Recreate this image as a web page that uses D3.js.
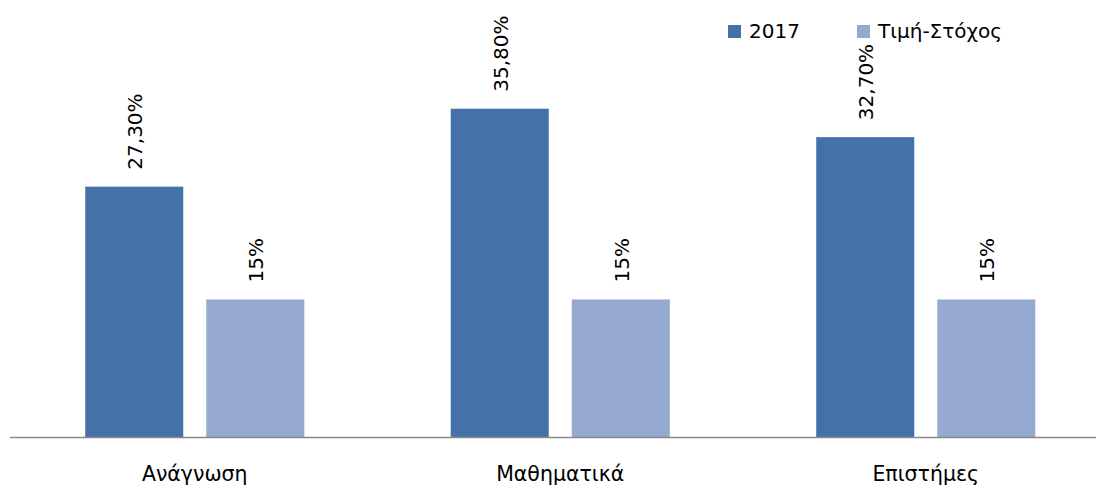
<!DOCTYPE html>
<html>
<head>
<meta charset="utf-8">
<script src="https://cdn.jsdelivr.net/npm/d3@7"></script>
<style>
  body { margin: 0; background: #fff; }
  svg text { font-family: "DejaVu Sans", Verdana, sans-serif; fill: #000; }
</style>
</head>
<body>
<div id="canvas"></div>
<script>
"use strict"

/* data */
let categories = ["Ανάγνωση", "Μαθηματικά", "Επιστήμες"];
let seriesNames = ["2017", "Τιμή-Στόχος"];
let values2017 = [27.3, 35.8, 32.7];
let valuesTarget = [15, 15, 15];
let labels2017 = ["27,30%", "35,80%", "32,70%"];
let labelsTarget = ["15%", "15%", "15%"];

let colors = ["#4472a8", "#95a9d1"];

let drawing = d3.select("#canvas")
  .append("svg")
  .attr("width", 1096)
  .attr("height", 492);

/* scales */
let x = d3.scaleBand()
  .domain(categories)
  .range([12, 1108.5]);

let inner = d3.scaleBand()
  .domain(seriesNames)
  .range([0, x.bandwidth()])
  .paddingInner(0.19)
  .paddingOuter(0.605);

let y = d3.scaleLinear()
  .domain([0, 10])
  .range([437, 345.3]);

/* rows for bars */
let rows = [];
categories.forEach(function (c, i) {
  rows.push({ cat: c, s: seriesNames[0], v: values2017[i], label: labels2017[i], color: colors[0] });
  rows.push({ cat: c, s: seriesNames[1], v: valuesTarget[i], label: labelsTarget[i], color: colors[1] });
});

/* bars */
drawing.append("g").selectAll("rect")
  .data(rows)
  .join("rect")
  .attr("x", d => x(d.cat) + inner(d.s))
  .attr("y", d => y(d.v))
  .attr("width", inner.bandwidth())
  .attr("height", d => y(0) - y(d.v))
  .attr("fill", d => d.color);

/* value labels, rotated */
drawing.append("g").selectAll("text")
  .data(rows)
  .join("text")
  .attr("transform", d => "translate(" + (x(d.cat) + inner(d.s) + inner.bandwidth() / 2 + 1) + "," + (y(d.v) - 17) + ") rotate(-90)")
  .attr("dominant-baseline", "central")
  .attr("font-size", 20)
  .text(d => d.label);

/* baseline axis */
drawing.append("line")
  .attr("x1", 10).attr("x2", 1096)
  .attr("y1", y(0) + 0.5).attr("y2", y(0) + 0.5)
  .attr("stroke", "#898989")
  .attr("stroke-width", 1.5);

/* category labels */
drawing.append("g").selectAll("text")
  .data(categories)
  .join("text")
  .attr("x", d => x(d) + x.bandwidth() / 2)
  .attr("y", 481)
  .attr("text-anchor", "middle")
  .attr("font-size", 20.5)
  .text(d => d);

/* legend */
let legendX = [728, 857];
let legend = drawing.append("g").selectAll("g")
  .data(seriesNames)
  .join("g")
  .attr("transform", (d, i) => "translate(" + legendX[i] + ",25)");

legend.append("rect")
  .attr("width", 13).attr("height", 13)
  .attr("fill", (d, i) => colors[i]);

legend.append("text")
  .attr("x", 21)
  .attr("y", 13)
  .attr("font-size", 20)
  .text(d => d);
</script>
</body>
</html>
